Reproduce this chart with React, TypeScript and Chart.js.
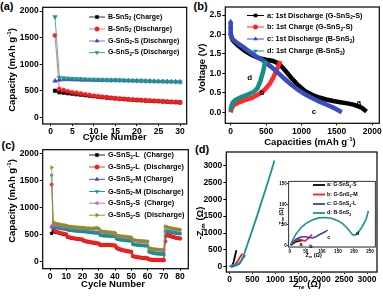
import React, { useEffect, useRef } from 'react';
import { Chart, registerables } from 'chart.js';
Chart.register(...registerables);

const FONT = '"Liberation Sans", Arial, Helvetica, sans-serif';
const PAGE_W = 383;
const PAGE_H = 296;

const C_BLACK = '#000000';
const C_RED = '#ff1a1a';
const C_BLUE = '#3344c4';
const C_TEAL = '#16958c';
const C_PINK = '#c65ec6';
const C_OLIVE = '#8e8e1e';

// ---------------- (a) cycling ----------------
const cyclesA = [1, 2, 3, 4, 5, 6, 7, 8, 9, 10, 11, 12, 13, 14, 15, 16, 17, 18, 19, 20, 21, 22, 23, 24, 25, 26, 27, 28, 29, 30];
const aBCharge = [500, 470, 462, 452, 442, 432, 425, 415, 405, 395, 387, 378, 370, 362, 355, 348, 342, 336, 330, 324, 319, 314, 310, 306, 302, 297, 293, 289, 285, 280];
const aBDischarge = [1540, 530, 510, 490, 470, 458, 445, 432, 420, 405, 395, 385, 375, 368, 358, 352, 346, 340, 334, 328, 323, 318, 314, 310, 306, 300, 296, 292, 288, 282];
const aGS1 = [685, 705, 710, 710, 708, 706, 705, 703, 702, 700, 700, 698, 697, 695, 695, 693, 692, 690, 688, 686, 685, 683, 680, 678, 676, 674, 672, 670, 668, 665];
const aGS2 = [1890, 750, 740, 735, 730, 725, 720, 715, 712, 710, 708, 705, 702, 700, 705, 700, 695, 692, 690, 688, 685, 682, 680, 678, 676, 674, 672, 670, 668, 665];
const ticksAx = [0, 5, 10, 15, 20, 25, 30];
const ticksAy = [0, 500, 1000, 1500, 2000];

// ---------------- (b) voltage profiles ----------------
const bA_x = [0, 30, 100, 200, 300, 400, 500, 600, 680, 750, 850, 950, 1050, 1150, 1250, 1350, 1450, 1550, 1650, 1750, 1850, 1920];
const bA_y = [2.0, 1.85, 1.72, 1.58, 1.47, 1.39, 1.35, 1.32, 1.25, 1.12, 0.9, 0.7, 0.55, 0.45, 0.38, 0.33, 0.29, 0.26, 0.23, 0.19, 0.12, 0.02];
const bB_x = [0, 15, 40, 100, 200, 300, 400, 480, 550, 610, 660, 700];
const bB_y = [0.0, 0.1, 0.18, 0.24, 0.31, 0.37, 0.47, 0.58, 0.72, 0.92, 1.12, 1.32];
const bC_x = [0, 0, 2, 15, 80, 160, 250, 350, 450, 550, 650, 750, 850, 950, 1050, 1150, 1250, 1350, 1450, 1520, 1570];
const bC_y = [2.33, 2.18, 2.03, 1.9, 1.8, 1.7, 1.58, 1.45, 1.34, 1.2, 1.05, 0.88, 0.72, 0.58, 0.46, 0.37, 0.28, 0.2, 0.12, 0.05, 0.0];
const bD_x = [0, 10, 30, 70, 150, 250, 330, 380, 420, 460, 490];
const bD_y = [0.04, 0.15, 0.25, 0.32, 0.39, 0.46, 0.53, 0.62, 0.8, 1.05, 1.32];
const ticksBx = [0, 500, 1000, 1500, 2000];
const ticksBy = [0, 0.5, 1.0, 1.5, 2.0, 2.5];

// ---------------- (c) rate capability ----------------
const cyclesC = [1, 2, 3, 4, 5, 6, 7, 8, 9, 10, 11, 12, 13, 14, 15, 16, 17, 18, 19, 20, 21, 22, 23, 24, 25, 26, 27, 28, 29, 30, 31, 32, 33, 34, 35, 36, 37, 38, 39, 40, 41, 42, 43, 44, 45, 46, 47, 48, 49, 50, 51, 52, 53, 54, 55, 56, 57, 58, 59, 60, 61, 62, 63, 64, 65, 66, 67, 68, 69, 70, 71, 72, 73, 74, 75, 76, 77, 78, 79, 80];
const cLCharge = [520, 560, 548, 540, 532, 524, 516, 508, 500, 494, 450, 442, 436, 430, 425, 420, 415, 411, 407, 403, 380, 372, 366, 360, 354, 349, 344, 339, 334, 328, 300, 300, 302, 303, 303, 302, 300, 298, 296, 292, 250, 232, 222, 213, 205, 198, 192, 186, 180, 175, 95, 86, 80, 75, 70, 66, 63, 60, 57, 55, 35, 30, 27, 25, 24, 23, 22, 22, 21, 21, 470, 488, 478, 468, 458, 450, 442, 436, 430, 424];
const cLDischarge = [1430, 600, 565, 552, 542, 533, 525, 517, 510, 503, 455, 447, 440, 434, 428, 423, 418, 414, 410, 406, 385, 376, 369, 363, 357, 352, 347, 342, 337, 331, 305, 303, 304, 305, 305, 304, 302, 300, 298, 295, 258, 238, 226, 216, 208, 201, 195, 189, 183, 178, 100, 90, 83, 78, 73, 69, 66, 63, 60, 58, 38, 32, 29, 27, 26, 25, 24, 23, 23, 22, 370, 495, 482, 471, 461, 452, 444, 437, 431, 425];
const cMCharge = [640, 640, 632, 626, 620, 615, 610, 606, 602, 598, 585, 580, 576, 572, 569, 566, 563, 560, 558, 555, 555, 550, 546, 542, 539, 536, 533, 530, 528, 525, 485, 480, 477, 475, 473, 471, 469, 467, 465, 463, 420, 410, 404, 399, 395, 391, 388, 385, 382, 380, 320, 312, 307, 303, 300, 297, 295, 293, 291, 289, 180, 165, 157, 151, 146, 142, 139, 136, 134, 132, 560, 555, 548, 542, 537, 532, 527, 523, 519, 515];
const cMDischarge = [1600, 650, 640, 632, 626, 620, 615, 610, 606, 602, 592, 586, 581, 577, 573, 570, 567, 564, 561, 558, 560, 554, 550, 546, 542, 539, 536, 533, 531, 528, 490, 484, 480, 478, 476, 474, 472, 470, 468, 466, 425, 414, 407, 402, 398, 394, 390, 387, 384, 381, 325, 315, 309, 305, 301, 298, 296, 294, 292, 290, 185, 168, 159, 152, 147, 143, 140, 137, 135, 133, 570, 560, 552, 546, 540, 535, 530, 526, 522, 518];
const cSCharge = [660, 690, 682, 676, 670, 665, 661, 657, 653, 650, 640, 636, 633, 630, 627, 625, 622, 620, 618, 616, 612, 608, 605, 603, 601, 600, 602, 605, 608, 600, 555, 548, 544, 540, 537, 534, 531, 528, 526, 523, 478, 468, 462, 457, 453, 450, 447, 444, 441, 439, 395, 385, 380, 376, 373, 370, 368, 366, 364, 362, 240, 228, 222, 218, 215, 212, 210, 208, 206, 205, 640, 628, 618, 610, 603, 597, 592, 587, 583, 579];
const cSDischarge = [1750, 730, 715, 705, 697, 690, 684, 679, 674, 670, 655, 650, 646, 643, 640, 637, 635, 632, 630, 628, 625, 620, 617, 615, 613, 612, 615, 620, 625, 615, 568, 560, 555, 551, 548, 545, 542, 539, 536, 533, 490, 480, 474, 469, 465, 461, 458, 455, 452, 450, 408, 398, 392, 388, 384, 381, 379, 377, 375, 373, 250, 238, 232, 227, 224, 221, 219, 217, 215, 213, 655, 642, 632, 624, 617, 611, 605, 600, 596, 592];
const ticksCx = [0, 10, 20, 30, 40, 50, 60, 70, 80];
const ticksCy = [0, 500, 1000, 1500, 2000];

// ---------------- (d) impedance ----------------
const dA_x = [30, 60, 90, 120, 150];
const dA_y = [0, 30, 150, 320, 490];
const dB_x = [40, 80, 130, 180, 230, 280];
const dB_y = [0, 25, 80, 170, 280, 390];
const dC_x = [40, 90, 150, 200, 250, 300, 340];
const dC_y = [0, 20, 45, 90, 170, 270, 340];
const dD_x = [0, 40, 100, 160, 210, 260, 320, 400, 500, 600, 700, 800, 900, 980];
const dD_y = [0, 35, 65, 62, 80, 170, 380, 700, 1100, 1500, 1930, 2350, 2780, 3150];
const ticksDx = [0, 500, 1000, 1500, 2000, 2500, 3000];
const ticksDy = [0, 500, 1000, 1500, 2000, 2500, 3000];

// inset
const iA_x = [5, 10, 18, 26, 34, 40];
const iA_y = [0, 4, 8, 10, 11, 12];
const iB_x = [3, 10, 20, 30, 40, 48, 55, 62, 70];
const iB_y = [0, 6, 12, 15, 12, 11, 15, 20, 26];
const iC_x = [3, 10, 20, 30, 40, 50, 60, 70, 80, 90, 100, 110, 118];
const iC_y = [0, 8, 15, 19, 21, 21, 19, 18, 20, 25, 29, 33, 37];
const iD_x = [2, 10, 20, 35, 50, 70, 90, 110, 130, 150, 165, 178, 188, 196, 204, 214, 226, 238, 245];
const iD_y = [0, 14, 28, 43, 53, 62, 67, 68, 66, 60, 53, 43, 33, 26, 25, 32, 46, 64, 84];
const ticksIx = [0, 50, 100, 150, 200, 250];
const ticksIy = [0, 50, 100, 150];

// ---------------- helpers ----------------
type Seg = { t: string; k: number };
function parseRich(s: string): Seg[] {
  const segs: Seg[] = [];
  const re = /([_^])\{([^}]*)\}/g;
  let last = 0;
  let m: RegExpExecArray | null;
  while ((m = re.exec(s))) {
    if (m.index > last) segs.push({ t: s.slice(last, m.index), k: 0 });
    segs.push({ t: m[2], k: m[1] === '_' ? 1 : 2 });
    last = re.lastIndex;
  }
  if (last < s.length) segs.push({ t: s.slice(last), k: 0 });
  return segs;
}

function drawRich(ctx: CanvasRenderingContext2D, s: string, x: number, y: number, size: number, align: string, rot: boolean) {
  ctx.save();
  ctx.translate(x, y);
  if (rot) ctx.rotate(-Math.PI / 2);
  const segs = parseRich(s);
  const fontFor = (k: number) => `bold ${k ? size * 0.65 : size}px ${FONT}`;
  let w = 0;
  for (const sg of segs) {
    ctx.font = fontFor(sg.k);
    w += ctx.measureText(sg.t).width;
  }
  let cx = align === 'center' ? -w / 2 : align === 'right' ? -w : 0;
  ctx.textBaseline = 'middle';
  ctx.textAlign = 'left';
  ctx.fillStyle = '#000';
  for (const sg of segs) {
    ctx.font = fontFor(sg.k);
    const dy = sg.k === 1 ? size * 0.32 : sg.k === 2 ? -size * 0.32 : 0;
    ctx.fillText(sg.t, cx, dy);
    cx += ctx.measureText(sg.t).width;
  }
  ctx.restore();
}

function marker(ctx: CanvasRenderingContext2D, style: string, rot: number, r: number, x: number, y: number, color: string) {
  ctx.save();
  ctx.fillStyle = color;
  ctx.strokeStyle = color;
  ctx.lineWidth = 0.5;
  ctx.beginPath();
  if (style === 'rect') {
    const s = r * Math.SQRT1_2;
    ctx.rect(x - s, y - s, 2 * s, 2 * s);
  } else if (style === 'circle') {
    ctx.arc(x, y, r, 0, Math.PI * 2);
  } else {
    let rad = (rot * Math.PI) / 180;
    ctx.moveTo(x + Math.sin(rad) * r, y - Math.cos(rad) * r);
    rad += (2 * Math.PI) / 3;
    ctx.lineTo(x + Math.sin(rad) * r, y - Math.cos(rad) * r);
    rad += (2 * Math.PI) / 3;
    ctx.lineTo(x + Math.sin(rad) * r, y - Math.cos(rad) * r);
    ctx.closePath();
  }
  ctx.fill();
  ctx.stroke();
  ctx.restore();
}

function xy(xs: number[], ys: number[]) {
  return xs.map((x, i) => ({ x, y: ys[i] }));
}

function ser(label: string, xs: number[], ys: number[], color: string, line: string, style: string, rot: number, r: any, lw: number) {
  return {
    label,
    data: xy(xs, ys),
    borderColor: line,
    backgroundColor: color,
    pointBackgroundColor: color,
    pointBorderColor: color,
    pointBorderWidth: 0.5,
    pointStyle: style,
    pointRotation: rot,
    pointRadius: r,
    borderWidth: lw,
    tension: 0,
    fill: false,
    legStyle: style,
    legRot: rot,
    legColor: color,
    legLine: line,
  };
}

type Spec = {
  L: number; T: number; W: number; H: number;
  area: number[];
  xr: number[]; yr: number[];
  xt: number[]; yt: number[];
  fmtY?: (v: number) => string;
  tickSize: number; tickLen: number; tickPad: number; xTickLen: number;
  datasets: any[];
  titles: { text: string; x: number; y: number; size: number; rot?: boolean }[];
  legend?: { x1: number; x2: number; xt: number; rows: number[]; size: number; lw: number; r: number; markers: boolean };
  notes?: { text: string; x: number; y: number; size: number }[];
  frameW: number;
};

function makeConfig(sp: Spec): any {
  const n = sp.datasets.length;
  const datasets = sp.datasets.map((d, i) => ({ ...d, order: n - i }));
  const tickFont = { family: FONT, size: sp.tickSize, weight: 'bold' };
  const decor = {
    id: 'decor',
    afterDraw(chart: any) {
      const ctx: CanvasRenderingContext2D = chart.ctx;
      const ca = chart.chartArea;
      ctx.save();
      ctx.strokeStyle = '#000';
      ctx.lineWidth = sp.frameW;
      ctx.strokeRect(ca.left, ca.top, ca.right - ca.left, ca.bottom - ca.top);
      for (const t of sp.titles) drawRich(ctx, t.text, t.x, t.y, t.size, 'center', !!t.rot);
      if (sp.legend) {
        const lg = sp.legend;
        sp.datasets.forEach((d, i) => {
          const y = lg.rows[i];
          ctx.strokeStyle = d.legLine;
          ctx.lineWidth = lg.lw;
          ctx.beginPath();
          ctx.moveTo(lg.x1, y);
          ctx.lineTo(lg.x2, y);
          ctx.stroke();
          if (lg.markers) marker(ctx, d.legStyle, d.legRot, lg.r, (lg.x1 + lg.x2) / 2, y, d.legColor);
          drawRich(ctx, d.label, lg.xt, y, lg.size, 'left', false);
        });
      }
      if (sp.notes) {
        for (const nt of sp.notes) {
          const px = chart.scales.x.getPixelForValue(nt.x);
          const py = chart.scales.y.getPixelForValue(nt.y);
          drawRich(ctx, nt.text, px, py, nt.size, 'center', false);
        }
      }
      ctx.restore();
    },
  };
  return {
    type: 'line',
    data: { datasets },
    plugins: [decor],
    options: {
      responsive: false,
      maintainAspectRatio: false,
      animation: false,
      devicePixelRatio: 1,
      events: [],
      layout: {
        autoPadding: false,
        padding: { left: sp.L, top: sp.area[1], right: PAGE_W - sp.area[2], bottom: PAGE_H - (sp.T + sp.H) },
      },
      plugins: { legend: { display: false }, tooltip: { enabled: false }, title: { display: false } },
      scales: {
        x: {
          type: 'linear',
          position: 'bottom',
          min: sp.xr[0],
          max: sp.xr[1],
          afterBuildTicks: (s: any) => { s.ticks = sp.xt.map((v) => ({ value: v })); },
          afterFit: (s: any) => { s.height = sp.T + sp.H - sp.area[3]; },
          grid: { drawOnChartArea: false, tickLength: sp.xTickLen, color: '#000' },
          ticks: { font: tickFont, color: '#000', padding: sp.tickPad, maxRotation: 0, minRotation: 0, autoSkip: false, callback: (v: any) => String(v) },
        },
        y: {
          type: 'linear',
          position: 'left',
          min: sp.yr[0],
          max: sp.yr[1],
          afterBuildTicks: (s: any) => { s.ticks = sp.yt.map((v) => ({ value: v })); },
          afterFit: (s: any) => { s.width = sp.area[0] - sp.L; },
          grid: { drawOnChartArea: false, tickLength: sp.tickLen, color: '#000' },
          ticks: { font: tickFont, color: '#000', padding: sp.tickPad, autoSkip: false, callback: (v: any) => (sp.fmtY ? sp.fmtY(Number(v)) : String(v)) },
        },
      },
    },
  };
}

const specA: Spec = {
  L: 0, T: 0, W: 192, H: 148,
  area: [42.7, 7.3, 186.7, 124],
  xr: [-1.86, 31.55], yr: [-126, 2070],
  xt: ticksAx, yt: ticksAy,
  tickSize: 8.5, tickLen: 3, tickPad: 1, xTickLen: 2,
  datasets: [
    ser('B-SnS_{2} (Charge)', cyclesA, aBCharge, C_BLACK, '#333333', 'rect', 0, 2.5, 1),
    ser('B-SnS_{2} (Discharge)', cyclesA, aBDischarge, C_RED, '#ff7070', 'circle', 0, 2.1, 1),
    ser('G-SnS_{2}-S (Discharge)', cyclesA, aGS1, C_BLUE, '#6b78d2', 'triangle', 0, 2.6, 1),
    ser('G-SnS_{2}-S (Discharge)', cyclesA, aGS2, C_TEAL, '#4fb0a8', 'triangle', 180, 2.6, 1),
  ],
  titles: [
    { text: 'Capacity (mAh g^{-1})', x: 12, y: 70, size: 9.5, rot: true },
    { text: 'Cycle Number', x: 114.7, y: 137, size: 9.5 },
  ],
  legend: { x1: 89, x2: 105, xt: 108, rows: [17, 29, 41, 52.5], size: 7, lw: 1, r: 2.2, markers: true },
  frameW: 1.2,
};

const specB: Spec = {
  L: 192, T: 0, W: 191, H: 148,
  area: [225.3, 7, 379.3, 123.3],
  xr: [-75, 2100], yr: [-0.283, 2.706],
  xt: ticksBx, yt: ticksBy, fmtY: (v) => v.toFixed(1),
  tickSize: 8.5, tickLen: 3, tickPad: 1, xTickLen: 2,
  datasets: [
    ser('a: 1st Discharge (G-SnS_{2}-S)', bA_x, bA_y, C_BLACK, '#000000', 'rect', 0, 0, 4.5),
    ser('b: 1st Charge (G-SnS_{2}-S)', bB_x, bB_y, C_RED, '#ff2a2a', 'circle', 0, 0, 4.5),
    ser('c: 1st Discharge (B-SnS_{2})', bC_x, bC_y, C_BLUE, '#3a4cc0', 'triangle', 0, [2.6, 2.6, 2.6, 0, 0, 0, 0, 0, 0, 0, 0, 0, 0, 0, 0, 0, 0, 0, 0, 0, 0], 4.5),
    ser('d: 1st Charge (B-SnS_{2})', bD_x, bD_y, C_TEAL, '#178f85', 'triangle', 180, 0, 4.5),
  ],
  titles: [
    { text: 'Voltage (V)', x: 202, y: 68, size: 9.5, rot: true },
    { text: 'Capacities (mAh g^{-1})', x: 310, y: 142, size: 9.5 },
  ],
  legend: { x1: 247, x2: 264, xt: 267, rows: [15.5, 27, 39, 51], size: 7.3, lw: 1, r: 2.2, markers: true },
  notes: [
    { text: 'a', x: 1812, y: 0.25, size: 8 },
    { text: 'b', x: 447, y: 0.5, size: 8 },
    { text: 'c', x: 1176, y: 0.02, size: 8 },
    { text: 'd', x: 268, y: 0.89, size: 8 },
  ],
  frameW: 1.2,
};

const specC: Spec = {
  L: 0, T: 148, W: 192, H: 148,
  area: [42.7, 149.7, 188.3, 268.7],
  xr: [-4.5, 85.1], yr: [-138, 2080],
  xt: ticksCx, yt: ticksCy,
  tickSize: 8.5, tickLen: 3, tickPad: 1, xTickLen: 2,
  datasets: [
    ser('G-SnS_{2}-L  (Charge)', cyclesC, cLCharge, C_BLACK, '#222222', 'rect', 0, 1.9, 0.8),
    ser('G-SnS_{2}-L  (Discharge)', cyclesC, cLDischarge, C_RED, '#ff3030', 'circle', 0, 1.7, 0.8),
    ser('G-SnS_{2}-M (Charge)', cyclesC, cMCharge, C_BLUE, '#4455c8', 'triangle', 0, 2.0, 0.8),
    ser('G-SnS_{2}-M (Discharge)', cyclesC, cMDischarge, C_TEAL, '#22a096', 'triangle', 180, 2.0, 0.8),
    ser('G-SnS_{2}-S  (Charge)', cyclesC, cSCharge, C_PINK, '#cc70cc', 'triangle', 270, 2.0, 0.8),
    ser('G-SnS_{2}-S  (Discharge)', cyclesC, cSDischarge, C_OLIVE, '#9a9a30', 'triangle', 90, 2.0, 0.8),
  ],
  titles: [
    { text: 'Capacity (mAh g^{-1})', x: 12, y: 201, size: 9.5, rot: true },
    { text: 'Cycle Number', x: 113, y: 284, size: 9.5 },
  ],
  legend: { x1: 89, x2: 105, xt: 108, rows: [155, 167, 179.3, 191.5, 203.2, 215.2], size: 7.3, lw: 1, r: 2.2, markers: true },
  frameW: 1.2,
};

const specD: Spec = {
  L: 192, T: 148, W: 191, H: 148,
  area: [226.3, 152, 377, 272],
  xr: [-70, 3218], yr: [-154, 3400],
  xt: ticksDx, yt: ticksDy,
  tickSize: 8.5, tickLen: 3, tickPad: 1, xTickLen: 2,
  datasets: [
    ser('a', dA_x, dA_y, C_BLACK, '#000000', 'circle', 0, 0, 1.8),
    ser('b', dB_x, dB_y, C_RED, '#ff1a1a', 'circle', 0, 0, 1.8),
    ser('c', dC_x, dC_y, C_BLUE, '#3344c4', 'circle', 0, 0, 1.8),
    ser('d', dD_x, dD_y, C_TEAL, '#16958c', 'circle', 0, 0, 1.8),
  ],
  titles: [
    { text: '-Z_{im} (\u03A9)', x: 200, y: 223, size: 9.5, rot: true },
    { text: 'Z_{re} (\u03A9)', x: 307, y: 284.7, size: 9.5 },
  ],
  frameW: 1.2,
};

const specI: Spec = {
  L: 270, T: 175, W: 110, H: 90,
  area: [288.7, 181.3, 375.3, 247],
  xr: [-3.1, 266.5], yr: [-4.2, 156.6],
  xt: ticksIx, yt: ticksIy,
  tickSize: 4.5, tickLen: 1.5, tickPad: 0.5, xTickLen: 1.5,
  datasets: [
    ser('a: G-SnS_{2}-S', iA_x, iA_y, C_BLACK, '#000000', 'circle', 0, 0, 1.6),
    ser('b: G-SnS_{2}-M', iB_x, iB_y, C_RED, '#ff1a1a', 'circle', 0, 0, 1.6),
    ser('c: G-SnS_{2}-L', iC_x, iC_y, C_BLUE, '#3344c4', 'circle', 0, 0, 1.6),
    ser('d: B-SnS_{2}', iD_x, iD_y, C_TEAL, '#16958c', 'circle', 0, 0, 1.6),
  ],
  titles: [
    { text: '-Z_{im} (\u03A9)', x: 281.3, y: 217, size: 5.5, rot: true },
    { text: 'Z_{re} (\u03A9)', x: 313.7, y: 255.3, size: 5.5 },
  ],
  legend: { x1: 313, x2: 325, xt: 327, rows: [185, 194.5, 204, 213], size: 5.3, lw: 1.8, r: 0, markers: false },
  notes: [
    { text: 'a', x: 35, y: 3, size: 5.5 },
    { text: 'b', x: 66, y: -2, size: 5.5 },
    { text: 'c', x: 122, y: 20, size: 5.5 },
    { text: 'd', x: 212, y: 30, size: 5.5 },
  ],
  frameW: 0.8,
};

function Panel({ spec }: { spec: Spec }) {
  const ref = useRef<HTMLCanvasElement>(null);
  useEffect(() => {
    const chart = new Chart(ref.current as HTMLCanvasElement, makeConfig(spec));
    return () => chart.destroy();
  }, []);
  return (
    <canvas
      ref={ref}
      width={PAGE_W}
      height={PAGE_H}
      style={{ position: 'absolute', left: 0, top: 0, width: PAGE_W, height: PAGE_H }}
    />
  );
}

const labelStyle = (left: number, top: number): React.CSSProperties => ({
  position: 'absolute',
  left,
  top,
  font: `bold 11px ${FONT}`,
  lineHeight: '11px',
  color: '#000',
  whiteSpace: 'nowrap',
});

export default function App() {
  return (
    <div style={{ position: 'fixed', left: 0, top: 0, width: PAGE_W, height: PAGE_H, background: '#fff', overflow: 'hidden' }}>
      <div style={labelStyle(0, 0.5)}>(a)</div>
      <div style={labelStyle(193.5, 1)}>(b)</div>
      <div style={labelStyle(1.5, 139.5)}>(c)</div>
      <div style={labelStyle(195, 144)}>(d)</div>
      <Panel key="a" spec={specA} />
      <Panel key="b" spec={specB} />
      <Panel key="c" spec={specC} />
      <Panel key="i" spec={specI} />
      <Panel key="d" spec={specD} />
    </div>
  );
}
